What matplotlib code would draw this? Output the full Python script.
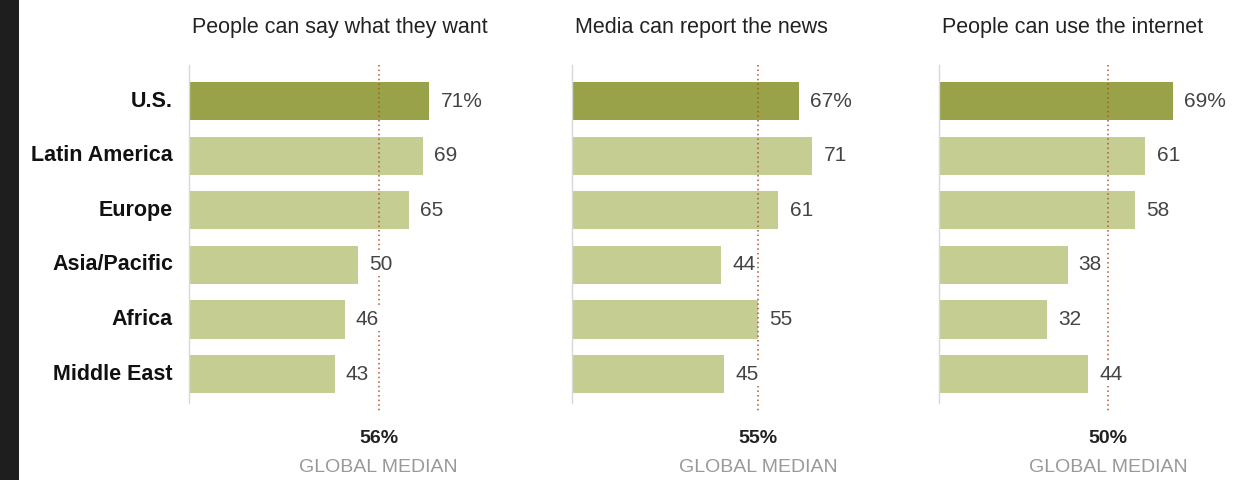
import matplotlib
matplotlib.use("Agg")
import matplotlib.pyplot as plt
from matplotlib.patches import Rectangle

plt.rcParams['font.family'] = ['Liberation Sans Narrow', 'Liberation Sans', 'DejaVu Sans']

categories = ["U.S.", "Latin America", "Europe", "Asia/Pacific", "Africa", "Middle East"]
titles = ["People can say what they want", "Media can report the news", "People can use the internet"]
values = [
    [71, 69, 65, 50, 46, 43],
    [67, 71, 61, 44, 55, 45],
    [69, 61, 58, 38, 32, 44],
]
medians = [56, 55, 50]

W, H = 1243, 480
fig = plt.figure(figsize=(W / 100, H / 100), dpi=100)
fig.patch.set_facecolor("white")
fig.patches.append(Rectangle((0, 0), 19 / W, 1, transform=fig.transFigure,
                             facecolor="#1e1e1e", edgecolor="none", zorder=-1))

dark = "#99a149"
light = "#c6cd93"
axis_lefts = [189, 572, 939]
px_per_unit = 3.385
xmax = 88
top_px, bot_px = 65, 403
ylim = (5.53, -0.66)

for i, (left, title, vals, med) in enumerate(zip(axis_lefts, titles, values, medians)):
    width_px = xmax * px_per_unit
    ax = fig.add_axes([left / W, 1 - bot_px / H, width_px / W, (bot_px - top_px) / H])
    ax.set_xlim(0, xmax)
    ax.set_ylim(*ylim)
    ypos = list(range(len(categories)))
    colors = [dark] + [light] * (len(categories) - 1)
    ax.barh(ypos, vals, height=0.70, color=colors, zorder=2)
    for spine in ["top", "right", "bottom"]:
        ax.spines[spine].set_visible(False)
    ax.spines["left"].set_color("#d8d8d8")
    ax.spines["left"].set_linewidth(1.0)
    ax.set_xticks([])
    ax.set_yticks([])
    if i == 0:
        for y, c in zip(ypos, categories):
            ax.text(-16 / px_per_unit, y, c, ha="right", va="center", fontsize=15.5,
                    fontweight="bold", color="#111111")
    ax.plot([med, med], [ylim[1], 5.72], color="#b5552e", linestyle=(0, (1, 2)),
            linewidth=1.1, clip_on=False, zorder=3)
    for j, (y, v) in enumerate(zip(ypos, vals)):
        lab = f"{v}%" if j == 0 else f"{v}"
        ax.annotate(lab, (v, y), xytext=(8, 0), textcoords="offset points",
                    ha="left", va="center", fontsize=15, color="#444444", zorder=4,
                    bbox=dict(boxstyle="square,pad=0.1", facecolor="white", edgecolor="none"))
    ax.text(med, 6.18, f"{med}%", ha="center", va="center", fontsize=14,
            fontweight="bold", color="#222222", clip_on=False)
    ax.text(med, 6.72, "GLOBAL MEDIAN",
            ha="center", va="center", fontsize=14, color="#999999", clip_on=False)
    fig.text((left + 3) / W, 1 - 27 / H, title, ha="left", va="center",
             fontsize=15.5, color="#222222")

fig.savefig("out.png", dpi=100)
